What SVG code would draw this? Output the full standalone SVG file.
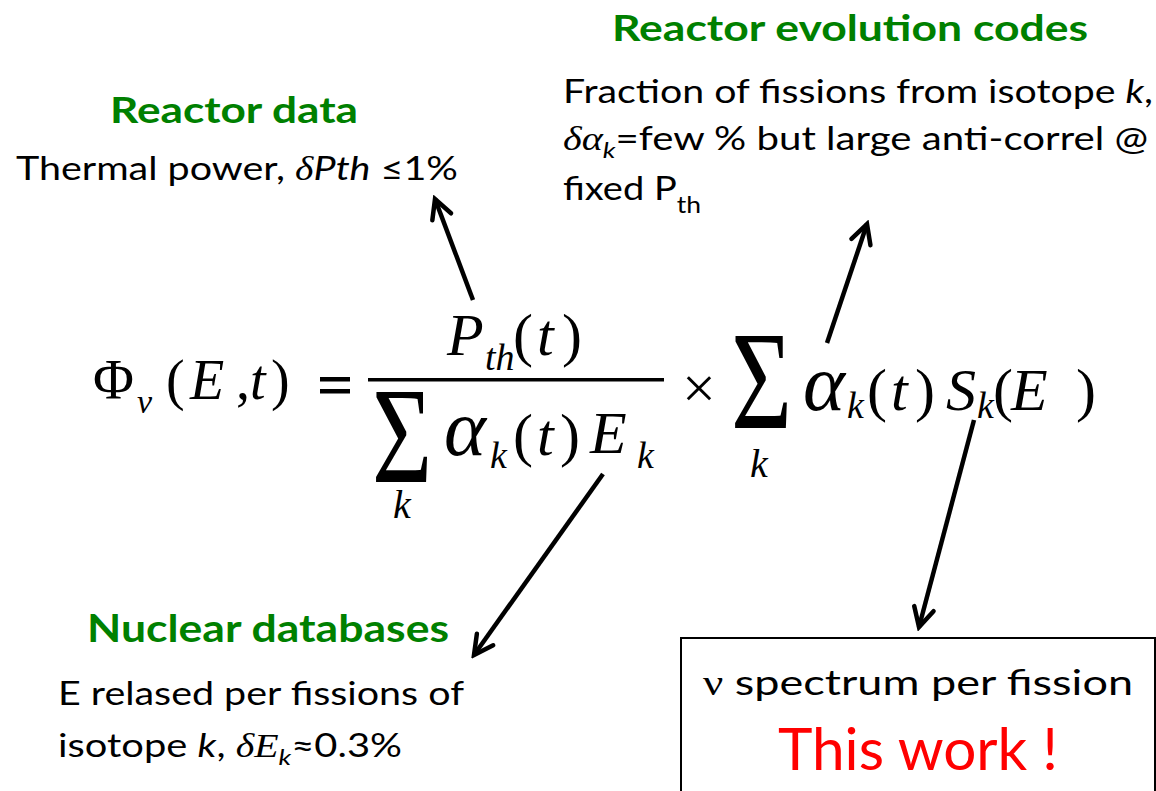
<svg xmlns="http://www.w3.org/2000/svg" width="1156" height="791" viewBox="0 0 1156 791">
<style>
.h{font-family:Lato,"Open Sans",sans-serif;font-weight:bold;fill:#008000;font-size:36px}
.t{font-family:Lato,"Open Sans",sans-serif;fill:#000;font-size:33px}
.ti{font-style:italic}
.gk{font-family:"Liberation Serif",serif;font-style:italic}
.m{font-family:"Liberation Serif",serif;fill:#000;font-size:60px}
.mi{font-style:italic}
.sub{font-family:"Liberation Serif",serif;font-style:italic;font-size:38px;fill:#000}
.arr{stroke:#000;stroke-width:4.5;fill:none;marker-end:url(#ah)}
</style>
<defs>
<marker id="ah" markerUnits="userSpaceOnUse" viewBox="0 0 26 26" refX="22" refY="13" markerWidth="26" markerHeight="26" orient="auto">
<path d="M3,3 L22,13 L3,23" fill="none" stroke="#000" stroke-width="4.5" stroke-linecap="round" stroke-linejoin="miter"/>
</marker>
</defs>
<rect width="1156" height="791" fill="#fff"/>

<g id="reactor-data">
<text class="h" x="110" y="123" textLength="248" lengthAdjust="spacingAndGlyphs">Reactor data</text>
<text class="t" x="16" y="180" textLength="442" lengthAdjust="spacingAndGlyphs">Thermal power, <tspan class="gk">δ</tspan><tspan class="ti">Pth</tspan> ≤1%</text>
</g>

<g id="reactor-evolution">
<text class="h" x="612" y="41" textLength="476" lengthAdjust="spacingAndGlyphs">Reactor evolution codes</text>
<text class="t" x="563" y="103" textLength="590" lengthAdjust="spacingAndGlyphs">Fraction of fissions from isotope <tspan class="ti">k</tspan>,</text>
<text class="t" x="563" y="150" textLength="585" lengthAdjust="spacingAndGlyphs"><tspan class="gk">δα</tspan><tspan class="ti" style="font-size:22px" dy="8">k</tspan><tspan dy="-8">=few % but large anti-correl @</tspan></text>
<text class="t" x="563" y="200" textLength="138" lengthAdjust="spacingAndGlyphs">fixed P<tspan style="font-size:23px" dy="13">th</tspan></text>
</g>

<g id="nuclear-databases">
<text class="h" x="87" y="642" style="font-size:38px" textLength="362" lengthAdjust="spacingAndGlyphs">Nuclear databases</text>
<text class="t" x="58" y="705" textLength="406" lengthAdjust="spacingAndGlyphs">E relased per fissions of</text>
<text class="t" x="58" y="757" textLength="344" lengthAdjust="spacingAndGlyphs">isotope <tspan class="ti">k</tspan>, <tspan class="gk">δE</tspan><tspan class="ti" style="font-size:22px" dy="8">k</tspan><tspan dy="-8">≈0.3%</tspan></text>
</g>

<g id="spectrum-box">
<rect x="681" y="638" width="474" height="170" fill="#fff" stroke="#000" stroke-width="2"/>
<text class="t" x="703" y="695" style="font-size:35px" textLength="430" lengthAdjust="spacingAndGlyphs"><tspan style="font-family:'Liberation Serif',serif">ν</tspan> spectrum per fission</text>
<text class="t" x="778" y="770" style="font-size:58px;fill:#ff0000" textLength="280" lengthAdjust="spacingAndGlyphs">This work !</text>
</g>

<g id="equation">
<text class="m" x="93" y="399" style="font-size:56px">Φ</text>
<text class="sub" x="137" y="413" style="font-size:34px">ν</text>
<text class="m" x="166" y="399" style="font-size:56px">(</text>
<text class="m mi" x="190" y="399" style="font-size:56px">E</text>
<text class="m" x="236" y="399" style="font-size:56px">,</text>
<text class="m mi" x="250" y="399" style="font-size:56px">t</text>
<text class="m" x="271" y="399" style="font-size:56px">)</text>
<rect x="320" y="377" width="30" height="4.5" fill="#000"/>
<rect x="320" y="389" width="30" height="4.5" fill="#000"/>

<text class="m mi" x="447" y="355">P</text>
<text class="sub" x="485" y="370">th</text>
<text class="m" x="513" y="355">(</text>
<text class="m mi" x="537" y="355">t</text>
<text class="m" x="562" y="355">)</text>
<rect x="368" y="378" width="296" height="3.5" fill="#000"/>

<text class="m" transform="translate(372,482) scale(0.75,1)" style="font-size:138px">Σ</text>
<text class="sub" x="393" y="518" style="font-size:40px">k</text>
<text class="m mi" x="444" y="455" style="font-size:80px">α</text>
<text class="sub" x="490" y="468">k</text>
<text class="m" x="513" y="455">(</text>
<text class="m mi" x="537" y="455">t</text>
<text class="m" x="560" y="455">)</text>
<text class="m mi" x="590" y="453">E</text>
<text class="sub" x="637" y="468">k</text>

<text class="m" x="682" y="408">×</text>
<text class="m" transform="translate(731,428) scale(0.75,1)" style="font-size:140px">Σ</text>
<text class="sub" x="750" y="477" style="font-size:40px">k</text>
<text class="m mi" x="803" y="410" style="font-size:80px">α</text>
<text class="sub" x="847" y="418">k</text>
<text class="m" x="867" y="410">(</text>
<text class="m mi" x="891" y="410">t</text>
<text class="m" x="915" y="410">)</text>
<text class="m mi" x="946" y="410">S</text>
<text class="sub" x="977" y="418">k</text>
<text class="m" x="993" y="410">(</text>
<text class="m mi" x="1011" y="410">E</text>
<text class="m" x="1076" y="410">)</text>
</g>

<g id="connectors">
<line class="arr" x1="473" y1="300" x2="435" y2="199"/>
<line class="arr" x1="827" y1="343" x2="867" y2="224"/>
<line class="arr" x1="603" y1="474" x2="474" y2="655"/>
<line class="arr" x1="974" y1="420" x2="919" y2="627"/>
</g>
</svg>
